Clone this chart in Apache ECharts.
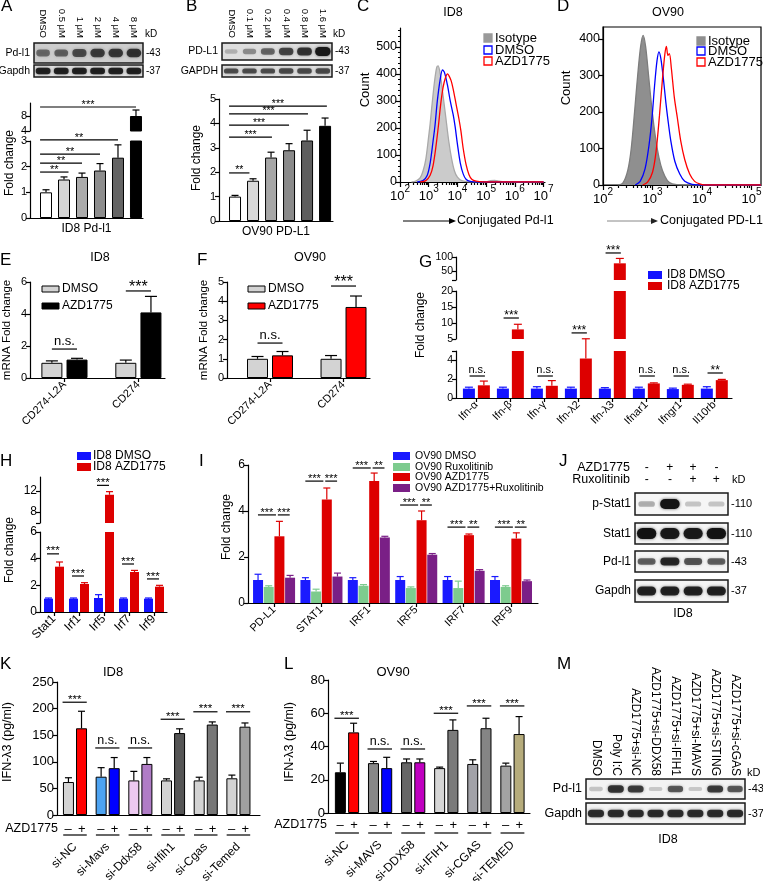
<!DOCTYPE html>
<html><head><meta charset="utf-8"><title>Figure</title>
<script src="https://cdn.jsdelivr.net/npm/echarts@6.0.0/dist/echarts.min.js"></script>
<style>html,body{margin:0;padding:0;background:#fff;}#chart{width:763px;height:881px;}</style>
</head><body><div id="chart"></div>
<script>
// ================= DATA =================
// A
const A_lanes = ['DMSO','0.5 μM','1 μM','2 μM','4 μM','8 μM'];
const A_pdl1Band = [0.45,0.5,0.62,0.72,0.75,0.78];
const A_gapdhBand = [0.85,0.85,0.85,0.85,0.85,0.85];
const A_fold = [1.0,1.5,1.6,1.85,2.35,8.0];
const A_err = [0.1,0.1,0.15,0.27,0.5,1.6];
const A_sigTo = [1.25,2,3,4,5];
const A_sigY = [1.79,2.14,2.49,3.04,10.4];
const A_sigLab = ['**','**','**','**','***'];
const A_sigSeg = [0,0,0,0,1];
// B
const B_lanes = ['DMSO','0.1 μM','0.2 μM','0.4 μM','0.8 μM','1.6 μM'];
const B_pdl1Band = [0.12,0.3,0.5,0.68,0.78,1.0];
const B_gapdhBand = [0.7,0.7,0.7,0.72,0.72,0.72];
const B_fold = [1.0,1.65,2.6,2.9,3.3,3.9];
const B_err = [0.05,0.08,0.22,0.27,0.42,0.32];
const B_sigTo = [0.8,2.05,3,4.05,5.1];
const B_sigY = [1.97,3.44,3.93,4.39,4.71];
const B_sigLab = ['**','***','***','***','***'];
// C (x = log10 fluorescence, y = count)
const C_iso = [[2.4,0],[2.55,3],[2.7,15],[2.8,40],[2.9,85],[3.0,170],[3.05,215],[3.1,270],[3.2,370],[3.28,425],[3.33,430],[3.4,400],[3.5,320],[3.6,235],[3.7,150],[3.8,85],[3.9,40],[4.0,18],[4.15,5],[4.4,1],[5.0,1],[5.15,5],[5.3,6],[5.45,3],[5.6,0],[7.0,0]];
const C_dmso = [[2.6,0],[2.8,5],[2.95,25],[3.05,70],[3.15,150],[3.22,210],[3.3,300],[3.4,380],[3.48,415],[3.55,405],[3.65,360],[3.75,300],[3.85,250],[3.92,205],[4.0,140],[4.1,70],[4.2,30],[4.3,10],[4.45,2],[4.7,0],[7.0,0]];
const C_azd = [[2.7,0],[2.9,5],[3.05,25],[3.15,60],[3.25,130],[3.34,210],[3.42,290],[3.5,350],[3.58,385],[3.66,400],[3.72,390],[3.78,375],[3.85,345],[3.95,290],[4.05,235],[4.12,190],[4.2,125],[4.3,65],[4.4,28],[4.5,10],[4.65,3],[4.9,0],[7.0,0]];
// D
const D_iso = [[2.3,0],[2.4,5],[2.5,40],[2.57,100],[2.64,205],[2.7,300],[2.76,380],[2.81,410],[2.86,380],[2.92,300],[2.99,205],[3.06,130],[3.13,75],[3.2,40],[3.3,12],[3.4,3],[3.6,0],[5.19,0]];
const D_dmso = [[2.65,0],[2.75,10],[2.85,45],[2.93,110],[2.99,185],[3.04,270],[3.09,340],[3.13,365],[3.17,345],[3.22,290],[3.27,225],[3.31,180],[3.37,120],[3.45,65],[3.55,30],[3.65,10],[3.8,2],[4.0,0],[5.19,0]];
const D_azd = [[2.8,0],[2.9,8],[3.0,35],[3.07,90],[3.14,190],[3.2,290],[3.25,360],[3.28,380],[3.31,355],[3.34,360],[3.38,320],[3.44,240],[3.5,185],[3.57,120],[3.65,70],[3.75,30],[3.85,10],[3.95,3],[4.05,0],[5.19,0]];
const FLOW_legend = ['Isotype','DMSO','AZD1775'];
// E / F
const EF_cats = ['CD274-L2A','CD274'];
const E_dmso = [0.95,0.95], E_dmsoErr = [0.12,0.17];
const E_azd = [1.15,4.1], E_azdErr = [0.08,1.0];
const E_sigY = [1.81,5.44], E_sigLab = ['n.s.','***'];
const F_dmso = [1.0,1.0], F_dmsoErr = [0.12,0.17];
const F_azd = [1.18,3.7], F_azdErr = [0.2,0.57];
const F_sigY = [1.82,4.79], F_sigLab = ['n.s.','***'];
// G
const G_cats = ['Ifn-α','Ifn-β','Ifn-γ','Ifn-λ2','Ifn-λ3','Ifnar1','Ifngr1','Il10rb'];
const G_dmso = [1.0,1.0,1.0,1.0,1.0,1.0,0.95,1.0];
const G_dmsoErr = [0.15,0.15,0.2,0.15,0.1,0.15,0.1,0.2];
const G_azd = [1.35,8.0,1.3,4.2,78,1.55,1.4,1.9];
const G_azdErr = [0.45,1.6,0.55,2.1,17,0.06,0.07,0.08];
const G_sigLab = ['n.s.','***','n.s.','***','***','n.s.','n.s.','**'];
const G_sigY = [2.34,11.56,2.34,6.9,114,2.34,2.34,2.66];
const G_sigSeg = [0,1,0,1,2,0,0,0];
// H
const H_cats = ['Stat1','Irf1','Irf5','Irf7','Irf9'];
const H_dmso = [1.0,1.0,1.05,1.0,1.0], H_dmsoErr = [0.05,0.05,0.25,0.05,0.05];
const H_azd = [3.4,2.1,11.3,3.0,1.9], H_azdErr = [0.35,0.1,0.6,0.12,0.1];
const H_sigY = [4.36,2.7,13.1,3.6,2.48], H_sigSeg = [0,0,1,0,0];
const H_sigLab = ['***','***','***','***','***'];
// I
const I_cats = ['PD-L1','STAT1','IRF1','IRF5','IRF7','IRF9'];
const I_names = ['OV90 DMSO','OV90 Ruxolitinib','OV90 AZD1775','OV90 AZD1775+Ruxolitinib'];
const I_dmso = [1.0,1.0,1.0,1.0,1.0,1.0], I_dmsoErr = [0.25,0.1,0.1,0.15,0.15,0.15];
const I_rux = [0.7,0.5,0.75,0.65,0.65,0.7], I_ruxErr = [0.05,0.1,0.05,0.05,0.3,0.05];
const I_azd = [2.9,4.5,5.3,3.6,2.95,2.8], I_azdErr = [0.65,0.5,0.35,0.4,0.05,0.25];
const I_combo = [1.1,1.15,2.85,2.1,1.4,0.95], I_comboErr = [0.1,0.15,0.05,0.05,0.05,0.05];
const I_sigY = [3.83,5.3,5.87,4.26,3.3,3.3];
const I_sigLab1 = ['***','***','***','***','***','***'];
const I_sigLab2 = ['***','***','**','**','**','**'];
// J
const J_azdSigns = ['-','+','+','-'];
const J_ruxSigns = ['-','-','+','+'];
const J_pStat1 = [0.2,1.0,0.1,0.1];
const J_stat1 = [0.95,0.9,0.9,0.95];
const J_pdl1 = [0.55,0.85,0.6,0.55];
const J_gapdh = [0.85,0.85,0.85,0.85];
// K
const K_cats = ['si-NC','si-Mavs','si-Ddx58','si-Ifih1','si-Cgas','si-Temed'];
const K_minus = [62,72,65,65,65,69], K_minusErr = [8,17,17,3,6,6];
const K_plus = [163,88,96,154,170,166], K_plusErr = [32,20,12,8,5,7];
const K_sigY = [212,126,126,180,194,194];
const K_sigLab = ['***','n.s.','n.s.','***','***','***'];
// L
const L_cats = ['si-NC','si-MAVS','si-DDX58','si-IFIH1','si-CGAS','si-TEMED'];
const L_minus = [24.5,30,30.5,27,29.5,28.5], L_minusErr = [5.5,1,2,0.6,2.5,1.5];
const L_plus = [48.5,27,30.5,50,51,47.5], L_plusErr = [5.5,6.5,2,6,6,10.5];
const L_sigY = [57,38.5,38.5,60,64.4,64.4];
const L_sigLab = ['***','n.s.','n.s.','***','***','***'];
const AZD_signs = ['–','+'];
// M
const M_lanes = ['DMSO','Poly I:C','AZD1775+si-NC','AZD1775+si-DDX58','AZD1775+si-IFIH1','AZD1775+si-MAVS','AZD1775+si-STING','AZD1775+si-cGAS'];
const M_pdl1 = [0.1,0.8,0.75,0.08,0.6,0.08,0.75,0.6];
const M_gapdh = [0.85,0.85,0.85,0.85,0.85,0.85,0.85,0.85];

// ================= BUILDERS =================
const F = 'Liberation Sans, Arial, Helvetica, sans-serif';
const grids=[], xAxes=[], yAxes=[], series=[], graphic=[];
const LS = {color:'#000', width:1.2};
function addGrid(l,t,w,h,ex){grids.push(Object.assign({left:l,top:t,width:w,height:h,containLabel:false,outerBoundsMode:'none',show:false},ex||{}));return grids.length-1;}
function addX(o){xAxes.push(o);return xAxes.length-1;}
function addY(o){yAxes.push(o);return yAxes.length-1;}
function T(x,y,text,fs,o){o=o||{};graphic.push({type:'text',x:x,y:y,rotation:o.rot||0,silent:true,z:10,style:{text:text,fontSize:fs,fontFamily:F,fill:o.color||'#000',align:o.align||'left',textAlign:o.align||'left',verticalAlign:o.va||'middle',textVerticalAlign:o.va||'middle'}});}
function VT(x,y,text,fs){T(x,y,text,fs,{rot:Math.PI/2,align:'center'});}
function R(x,y,w,h,fill,stroke,lw){graphic.push({type:'rect',silent:true,z:10,shape:{x:x,y:y,width:w,height:h},style:{fill:fill||'none',stroke:stroke||null,lineWidth:lw||0}});}
function xVal(gi,min,max,o){o=o||{};const cats=o.cats;
  return addX({gridIndex:gi,type:'value',min:min,max:max,position:'bottom',splitLine:{show:false},
    axisLine:{show:o.line!==false,onZero:false,lineStyle:LS},
    axisTick:(cats&&o.ticks)?{show:true,customValues:cats.map((_,i)=>i),length:4,lineStyle:LS}:{show:false},
    axisLabel:cats?{show:true,customValues:cats.map((_,i)=>i),formatter:(v)=>cats[Math.round(v)],rotate:o.rot||0,fontSize:o.fs||11,fontFamily:F,color:'#000',margin:(o.m==null?5:o.m)}:{show:false},
    name:o.name||'',nameLocation:'middle',nameGap:o.ng||5,nameTextStyle:{fontSize:12,fontFamily:F,color:'#000'}});}
function yVal(gi,min,max,labels,ticks,o){o=o||{};
  return addY({gridIndex:gi,type:'value',min:min,max:max,position:'left',splitLine:{show:false},
    axisLine:{show:true,onZero:false,lineStyle:LS},
    axisTick:{show:true,customValues:ticks,length:o.tl||4,lineStyle:LS},
    axisLabel:{show:true,customValues:labels,fontSize:o.fs||11,fontFamily:F,color:'#000',margin:o.m||3}});}
function bars(xi,yi,xs,vals,colors,w,border){
  series.push({type:'bar',xAxisIndex:xi,yAxisIndex:yi,barWidth:w,barGap:'-100%',clip:true,silent:true,z:2,
    data:vals.map((v,i)=>({value:[xs[i],v],itemStyle:{color:Array.isArray(colors)?colors[i]:colors}})),
    itemStyle:border?{borderColor:'#000',borderWidth:1}:{borderWidth:0}});}
function errs(xi,yi,xs,vals,es,colors,cap,mn,mx){
  series.push({type:'custom',xAxisIndex:xi,yAxisIndex:yi,silent:true,clip:false,z:3,
    data:vals.map((v,i)=>[xs[i],v,es[i]]),encode:{x:0,y:1},
    renderItem:function(p,api){const x=api.value(0),y=api.value(1),e=api.value(2);if(y<mn||y>mx)return null;
      const a=api.coord([x,y]),b=api.coord([x,y+e]);const c=Array.isArray(colors)?colors[p.dataIndex]:colors;
      return {type:'group',children:[
        {type:'line',shape:{x1:a[0],y1:a[1],x2:a[0],y2:b[1]},style:{stroke:c,lineWidth:1.2}},
        {type:'line',shape:{x1:a[0]-cap/2,y1:b[1],x2:a[0]+cap/2,y2:b[1]},style:{stroke:c,lineWidth:1.2}}]};}});}
function sig(xi,yi,items,labels,sfs,nfs){
  series.push({type:'custom',xAxisIndex:xi,yAxisIndex:yi,silent:true,clip:false,z:4,data:items,encode:{x:0,y:2},
    renderItem:function(p,api){const a=api.coord([api.value(0),api.value(2)]),b=api.coord([api.value(1),api.value(2)]);
      const lab=labels[p.dataIndex];const star=lab.indexOf('*')>=0;
      return {type:'group',children:[
        {type:'line',shape:{x1:a[0],y1:a[1],x2:b[0],y2:b[1]},style:{stroke:'#000',lineWidth:1.2}},
        {type:'text',style:{text:lab,x:(a[0]+b[0])/2,y:a[1]+(star?sfs*0.3:-1),align:'center',textAlign:'center',verticalAlign:'bottom',textVerticalAlign:'bottom',fontSize:star?sfs:nfs,fontFamily:F,fill:'#000'}}]};}});}
function signRow(xi,yi,n,off,dy,ul,fs){
  series.push({type:'custom',xAxisIndex:xi,yAxisIndex:yi,silent:true,clip:false,z:4,data:Array.from({length:n},(_,g)=>[g,0]),encode:{x:0,y:1},
    renderItem:function(p,api){const g=api.value(0);const a=api.coord([g-off,0]),b=api.coord([g+off,0]),l=api.coord([g-0.36,0]),r=api.coord([g+0.36,0]);const y=a[1]+dy;
      const st={fontSize:fs,fontFamily:F,fill:'#000',align:'center',textAlign:'center',verticalAlign:'middle',textVerticalAlign:'middle'};
      return {type:'group',children:[
        {type:'text',style:Object.assign({text:AZD_signs[0],x:a[0],y:y},st)},
        {type:'text',style:Object.assign({text:AZD_signs[1],x:b[0],y:y},st)},
        {type:'line',shape:{x1:l[0],y1:y+ul,x2:r[0],y2:y+ul},style:{stroke:'#000',lineWidth:1.2}}]};}});}
function bandSeries(xi,yi,vals,o){
  series.push({type:'custom',xAxisIndex:xi,yAxisIndex:yi,silent:true,clip:true,z:3,data:vals.map((v,i)=>[i,0,v]),encode:{x:0,y:1},
    renderItem:function(p,api){const a=api.value(2);const c=api.coord([api.value(0),0]);const bw=api.size([1,0])[0];const hh=p.coordSys.height;
      const w=bw*(o.wf||0.8)*(0.85+0.2*a),h=Math.max(2,hh*(o.hf||0.32)*(0.6+0.7*a));const k=o.dark||20;
      return {type:'rect',shape:{x:c[0]-w/2,y:c[1]-h/2,width:w,height:h,r:h/2},style:{fill:'rgba('+k+','+k+','+k+','+Math.min(1,0.12+0.88*a)+')',shadowBlur:o.blur||3,shadowColor:'rgba('+k+','+k+','+k+','+(0.7*a)+')'}};}});}
function blotRow(l,t,w,h,vals,rowName,kd,o){o=o||{};
  const gi=addGrid(l,t,w,h,{show:true,borderColor:'#1a1a1a',borderWidth:1.5,backgroundColor:o.bg||'#eeeeee'});
  const lanes=o.lanes||vals.map((_,i)=>String(i));
  const xi=addX({gridIndex:gi,type:'category',data:lanes,position:'top',axisLine:{show:false},axisTick:{show:false},splitLine:{show:false},
    axisLabel:o.lanes?{show:true,rotate:90,interval:0,fontSize:o.laneFs||10,fontFamily:F,color:'#000',margin:o.laneM||4}:{show:false}});
  const yi=addY({gridIndex:gi,type:'category',data:[rowName],position:'left',axisLine:{show:false},axisTick:{show:false},splitLine:{show:false},
    axisLabel:{show:true,fontSize:o.fs||12,fontFamily:F,color:'#000',margin:o.m||4}});
  addY({gridIndex:gi,type:'category',data:[kd],position:'right',axisLine:{show:false},axisTick:{show:false},splitLine:{show:false},
    axisLabel:{show:true,fontSize:o.kfs||10,fontFamily:F,color:'#000',margin:3}});
  bandSeries(xi,yi,vals,o);
  return {gi:gi,xi:xi,yi:yi};}
function flow(l,t,w,h,xmax,ymax,yLab,yMinor,curves,box){
  const gi=addGrid(l,t,w,h,box?{show:true,borderColor:'#000',borderWidth:1.2,backgroundColor:'rgba(0,0,0,0)'}:{});
  const ints=[];for(let n=2;n<=Math.floor(xmax+1e-9);n++)ints.push(n);
  const minors=[];for(let n=2;n<xmax;n++)for(let k=2;k<=9;k++){const v=n+Math.log10(k);if(v<=xmax)minors.push(v);}
  const xi=addX({gridIndex:gi,type:'value',min:2,max:xmax,position:'bottom',splitLine:{show:false},axisLine:{show:true,onZero:false,lineStyle:LS},
    axisTick:{show:true,customValues:ints,length:5,lineStyle:LS},
    axisLabel:{show:true,customValues:ints,formatter:(v)=>'{a|10}{b|'+Math.round(v)+'}',margin:2,
      rich:{a:{fontSize:13,fontFamily:F,color:'#000',verticalAlign:'bottom'},b:{fontSize:10,fontFamily:F,color:'#000',verticalAlign:'bottom',padding:[0,0,9,0]}}}});
  addX({gridIndex:gi,type:'value',min:2,max:xmax,position:'bottom',splitLine:{show:false},axisLine:{show:false,onZero:false},
    axisTick:{show:true,customValues:minors,length:3,lineStyle:LS},axisLabel:{show:false}});
  const yi=yVal(gi,0,ymax,yLab,yLab,{fs:12.5,tl:4});
  if(yMinor)addY({gridIndex:gi,type:'value',min:0,max:ymax,position:'left',splitLine:{show:false},axisLine:{show:false,onZero:false},
    axisTick:{show:true,customValues:yMinor,length:2,lineStyle:LS},axisLabel:{show:false}});
  curves.forEach(c=>series.push({type:'line',xAxisIndex:xi,yAxisIndex:yi,data:c.data,smooth:0.3,symbol:'none',silent:true,z:c.z||2,
    lineStyle:{color:c.color,width:1.3},areaStyle:c.fill?{color:c.fill,opacity:1}:null}));}
const idx=(n)=>Array.from({length:n},(_,i)=>i);
const shift=(n,d)=>Array.from({length:n},(_,i)=>i+d);

// ================= PANEL A =================
(function(){
  blotRow(34,43,109,20,A_pdl1Band,'Pd-l1','-43',{lanes:A_lanes,laneFs:9.5,laneM:5,fs:10.5,kfs:10,bg:'#cdcdcd',dark:25,hf:0.38});
  blotRow(34,65,109,12,A_gapdhBand,'Gapdh','-37',{fs:10.5,kfs:10,bg:'#e2e2e2',dark:15,hf:0.45});
  T(145,34,'kD',10);
  const cols=['#ffffff','#d5d5d5','#ababab','#8d8d8d','#646464','#000000'];
  const gLo=addGrid(30,141,113,77), gUp=addGrid(30,103,113,28);
  const xLo=xVal(gLo,-0.89,5.39,{name:'ID8 Pd-l1',ng:5}), xUp=xVal(gUp,-0.89,5.39,{line:false});
  const yLo=yVal(gLo,0,3,[0,1,2,3],[0,1,2,3]), yUp=yVal(gUp,4,11.47,[4,8],[4,8]);
  const xs=idx(6);
  [[xLo,yLo,0,3],[xUp,yUp,4,11.47]].forEach(s=>{bars(s[0],s[1],xs,A_fold,cols,12,true);errs(s[0],s[1],xs,A_fold,A_err,'#000',7,s[2],s[3]);});
  [0,1].forEach(seg=>{const it=[],lb=[];A_sigTo.forEach((t,i)=>{if(A_sigSeg[i]===seg){it.push([-0.33,t,A_sigY[i]]);lb.push(A_sigLab[i]);}});
    sig(seg?xUp:xLo,seg?yUp:yLo,it,lb,11,11);});
  VT(10,163,'Fold change',12);
})();
// ================= PANEL B =================
(function(){
  blotRow(222,43,110,17,B_pdl1Band,'PD-L1','-43',{lanes:B_lanes,laneFs:9.5,laneM:5,fs:10.5,kfs:10,bg:'#dedede',dark:25,hf:0.4});
  blotRow(222,65,110,12,B_gapdhBand,'GAPDH','-37',{fs:10.5,kfs:10,bg:'#e0e0e0',dark:40,hf:0.4});
  T(333,34,'kD',10);
  const cols=['#ffffff','#d8d8d8','#a6a6a6','#8a8a8a','#5e5e5e','#000000'];
  const g=addGrid(219,99,114,122);
  const xi=xVal(g,-0.89,5.44,{name:'OV90 PD-L1',ng:5}), yi=yVal(g,0,5,[0,1,2,3,4,5],[0,1,2,3,4,5]);
  const xs=idx(6);
  bars(xi,yi,xs,B_fold,cols,12,true); errs(xi,yi,xs,B_fold,B_err,'#000',7,0,5);
  sig(xi,yi,B_sigTo.map((t,i)=>[-0.33,t,B_sigY[i]]),B_sigLab,10.5,11);
  VT(197,158,'Fold change',12);
})();
// ================= PANEL C / D =================
(function(){
  const cMinor=[];for(let v=20;v<570;v+=20){if(v%100!==0)cMinor.push(v);}
  flow(400,28,145,154,7.05,570,[0,100,200,300,400,500],cMinor,[
    {data:C_iso,color:'#a9a9a9',fill:'#cbcbcb',z:2},{data:C_dmso,color:'#0000ff',z:3},{data:C_azd,color:'#ff0000',z:4}],false);
  flow(603,27,158,158,5.19,433,[0,100,200,300,400],null,[
    {data:D_iso,color:'#7d7d7d',fill:'#8f8f8f',z:2},{data:D_dmso,color:'#0000ff',z:3},{data:D_azd,color:'#ff0000',z:4}],true);
  T(453,13,'ID8',12.5,{align:'center'}); T(668,13,'OV90',12.5,{align:'center'});
  VT(365,90,'Count',13); VT(566,88,'Count',13);
  // legends
  [[484,38],[484,50],[484,61]].forEach((p,i)=>{const s=[['#9a9a9a','#9a9a9a'],['#fff','#0000ff'],['#fff','#ff0000']][i];R(p[0],p[1]-4,8,8,s[0],s[1],1.3);T(p[0]+11,p[1],FLOW_legend[i],13);});
  [[697,41],[697,51],[697,62]].forEach((p,i)=>{const s=[['#8f8f8f','#8f8f8f'],['#fff','#0000ff'],['#fff','#ff0000']][i];R(p[0],p[1]-4,8,8,s[0],s[1],1.3);T(p[0]+11,p[1],FLOW_legend[i],13);});
  // arrows + x names
  graphic.push({type:'line',silent:true,shape:{x1:403,y1:221,x2:450,y2:221},style:{stroke:'#000',lineWidth:1}});
  graphic.push({type:'polygon',silent:true,shape:{points:[[456,221],[449,218],[449,224]]},style:{fill:'#000'}});
  T(457,221,'Conjugated Pd-l1',12.5);
  graphic.push({type:'line',silent:true,shape:{x1:607,y1:221,x2:652,y2:221},style:{stroke:'#888',lineWidth:1}});
  graphic.push({type:'polygon',silent:true,shape:{points:[[658,221],[651,218],[651,224]]},style:{fill:'#222'}});
  T(660,221,'Conjugated PD-L1',12.5);
})();
// ================= PANEL E / F =================
(function(){
  const mk=function(l,w,xmin,xmax,ymax,yl,dm,dmE,az,azE,azCol,sY,sL,lgx){
    const g=addGrid(l,282,w,96);
    const xi=xVal(g,xmin,xmax,{cats:EF_cats,ticks:true,rot:45,fs:11,m:5}), yi=yVal(g,0,ymax,yl,yl,{fs:11});
    const d=0.17; const xd=shift(2,-d), xa=shift(2,d);
    bars(xi,yi,xd,dm,'#d3d3d3',21,true); bars(xi,yi,xa,az,azCol,21,true);
    errs(xi,yi,xd,dm,dmE,'#000',12,0,ymax); errs(xi,yi,xa,az,azE,'#000',12,0,ymax);
    sig(xi,yi,sY.map((y,i)=>[i-0.17,i+0.17,y]),sL,16,13);
    R(lgx,286,17,6,'#d3d3d3','#000',1); T(lgx+20,289,'DMSO',12);
    R(lgx,303,17,6,azCol,'#000',1); T(lgx+20,306,'AZD1775',12);
  };
  mk(30,135,-0.466,1.36,6,[0,2,4,6],E_dmso,E_dmsoErr,E_azd,E_azdErr,'#000000',E_sigY,E_sigLab,42);
  mk(227,143,-0.585,1.36,5,[0,1,2,3,4,5],F_dmso,F_dmsoErr,F_azd,F_azdErr,'#ff0000',F_sigY,F_sigLab,248);
  T(100,258,'ID8',12.5,{align:'center'}); T(310,258,'OV90',12.5,{align:'center'});
  VT(7,330,'mRNA Fold change',11.5); VT(204,330,'mRNA Fold change',11.5);
})();
// ================= PANEL G =================
(function(){
  const blue='#1212ff', red='#dd0000';
  const segs=[{t:351,h:47,mn:0,mx:5,lab:[0,2,4],tk:[0,2,4,5]},{t:291,h:48,mn:5,mx:20,lab:[5,10,15,20],tk:[5,10,15,20]},{t:257,h:23,mn:20,mx:100,lab:[50,100],tk:[20,50,100]}];
  const ax=segs.map((s,k)=>{const g=addGrid(456,s.t,276,s.h);
    const xi=k===0?xVal(g,-0.6,7.52,{cats:G_cats,ticks:true,rot:45,fs:11,m:5}):xVal(g,-0.6,7.52,{line:false});
    const yi=yVal(g,s.mn,s.mx,s.lab,s.tk,{fs:10.5});
    const xb=shift(8,-0.22), xr=shift(8,0.22);
    bars(xi,yi,xb,G_dmso,blue,12,false); bars(xi,yi,xr,G_azd,red,12,false);
    errs(xi,yi,xb,G_dmso,G_dmsoErr,blue,8,s.mn,s.mx); errs(xi,yi,xr,G_azd,G_azdErr,red,8,s.mn,s.mx);
    return [xi,yi];});
  [0,1,2].forEach(seg=>{const it=[],lb=[];G_sigY.forEach((y,i)=>{if(G_sigSeg[i]===seg){it.push([i-0.2,i+0.25,y]);lb.push(G_sigLab[i]);}});
    if(it.length)sig(ax[seg][0],ax[seg][1],it,lb,12,11);});
  R(648,271,14,8,blue); T(667,275,'ID8 DMSO',12);
  R(648,282,14,8,red); T(667,286,'ID8 AZD1775',12);
  VT(421,325,'Fold change',12);
})();
// ================= PANEL H =================
(function(){
  const blue='#1212ff', red='#dd0000';
  const segs=[{t:532,h:80,mn:0,mx:6,lab:[0,2,4,6],tk:[0,2,4,6]},{t:477,h:46,mn:5.9,mx:14.7,lab:[8,12],tk:[5.9,8,12]}];
  const ax=segs.map((s,k)=>{const g=addGrid(40,s.t,127,s.h);
    const xi=k===0?xVal(g,-0.56,4.52,{cats:H_cats,ticks:true,rot:45,fs:12,m:5}):xVal(g,-0.56,4.52,{line:false});
    const yi=yVal(g,s.mn,s.mx,s.lab,s.tk,{fs:12});
    const xb=shift(5,-0.22), xr=shift(5,0.22);
    bars(xi,yi,xb,H_dmso,blue,9,false); bars(xi,yi,xr,H_azd,red,9,false);
    errs(xi,yi,xb,H_dmso,H_dmsoErr,blue,7,s.mn,s.mx); errs(xi,yi,xr,H_azd,H_azdErr,red,7,s.mn,s.mx);
    return [xi,yi];});
  [0,1].forEach(seg=>{const it=[],lb=[];H_sigY.forEach((y,i)=>{if(H_sigSeg[i]===seg){it.push([i-0.28,i+0.2,y]);lb.push(H_sigLab[i]);}});
    sig(ax[seg][0],ax[seg][1],it,lb,11.5,11);});
  R(77,452,14,8,blue); T(93,456,'ID8 DMSO',12);
  R(77,463,14,8,red); T(93,467,'ID8 AZD1775',12);
  VT(10,550,'Fold change',12);
})();
// ================= PANEL I =================
(function(){
  const cols=['#1a1aff','#7dcb8e','#dd0000','#7a1f86'];
  const g=addGrid(248,465,290,138);
  const xi=xVal(g,-0.55,5.57,{cats:I_cats,ticks:true,rot:45,fs:11,m:5}), yi=yVal(g,0,6,[0,2,4,6],[0,2,4,6],{fs:12});
  const offs=[-0.338,-0.113,0.113,0.338];
  [[I_dmso,I_dmsoErr],[I_rux,I_ruxErr],[I_azd,I_azdErr],[I_combo,I_comboErr]].forEach((s,k)=>{const xs=shift(6,offs[k]);
    bars(xi,yi,xs,s[0],cols[k],10,false); errs(xi,yi,xs,s[0],s[1],cols[k],7,0,6);});
  sig(xi,yi,I_sigY.map((y,i)=>[i-0.34,i+0.04,y]),I_sigLab1,11,11);
  sig(xi,yi,I_sigY.map((y,i)=>[i+0.08,i+0.33,y]),I_sigLab2,11,11);
  [456,467,477,488].forEach((y,k)=>{R(393,y-4,17,8,cols[k]);T(415,y,I_names[k],10.5);});
  VT(227,527,'Fold change',12);
})();
// ================= PANEL J =================
(function(){
  const r1=blotRow(635,493,93,22,J_pStat1,'p-Stat1','-110',{fs:12,kfs:11,bg:'#f6f6f6',dark:20,hf:0.35});
  blotRow(635,523,93,21,J_stat1,'Stat1','-110',{fs:12,kfs:11,bg:'#f4f4f4',dark:15,hf:0.42});
  blotRow(635,551,93,21,J_pdl1,'Pd-l1','-43',{fs:12,kfs:11,bg:'#f4f4f4',dark:20,hf:0.32});
  blotRow(635,580,93,22,J_gapdh,'Gapdh','-37',{fs:12,kfs:11,bg:'#f4f4f4',dark:15,hf:0.35});
  [[J_azdSigns,'AZD1775',25],[J_ruxSigns,'Ruxolitinib',13]].forEach(s=>addX({gridIndex:r1.gi,type:'category',data:s[0],position:'top',offset:s[2],
    axisLine:{show:false},axisTick:{show:false},splitLine:{show:false},
    axisLabel:{show:true,interval:0,margin:0,verticalAlign:'middle',fontSize:12,fontFamily:F,color:'#000'},
    name:s[1],nameLocation:'start',nameGap:5,nameTextStyle:{fontSize:12.5,fontFamily:F,color:'#000',align:'right',verticalAlign:'middle'}}));
  T(732,480,'kD',11);
  T(683,614,'ID8',12.5,{align:'center'});
})();
// ================= PANEL K / L =================
(function(){
  const mk=function(l,t,w,h,xmin,xmax,ymax,yl,cats,mi,miE,pl,plE,cMi,cPl,sY,sL,dy,ul,nfs){
    const g=addGrid(l,t,w,h);
    const xi=xVal(g,xmin,xmax,{cats:cats,ticks:false,rot:45,fs:12,m:30}), yi=yVal(g,0,ymax,yl,yl,{fs:13,m:3});
    const xm=shift(6,-0.2), xp=shift(6,0.2);
    bars(xi,yi,xm,mi,cMi,11,true); bars(xi,yi,xp,pl,cPl,11,true);
    errs(xi,yi,xm,mi,miE,'#000',7,0,ymax); errs(xi,yi,xp,pl,plE,'#000',7,0,ymax);
    sig(xi,yi,sY.map((y,i)=>[i-0.38,i+0.36,y]),sL,11.5,nfs);
    signRow(xi,yi,6,0.21,dy,ul,13);
  };
  mk(57,682,203,133,-0.55,5.66,250,[0,50,100,150,200,250],K_cats,K_minus,K_minusErr,K_plus,K_plusErr,
     ['#d3d3d3','#4da3f2','#ecc9f0','#d3d3d3','#d3d3d3','#d3d3d3'],['#ff0000','#0000ff','#b07cc6','#555555','#777777','#a0a0a0'],K_sigY,K_sigLab,14,6,12.5);
  mk(328,680,202,133,-0.574,5.53,80,[0,20,40,60,80],L_cats,L_minus,L_minusErr,L_plus,L_plusErr,
     ['#000000','#888888','#666666','#d6d6d6','#a2a2a8','#a3a3a3'],['#ff0000','#0000ff','#c000c0','#7a7a7a','#858585','#b6ac7c'],L_sigY,L_sigLab,12,8,12.5);
  T(58,829,'AZD1775',12.5,{align:'right'}); T(327,825,'AZD1775',12.5,{align:'right'});
  T(113,672,'ID8',13,{align:'center'}); T(393,672,'OV90',13,{align:'center'});
  VT(8,742,'IFN-λ3 (pg/ml)',12.5); VT(290,742,'IFN-λ3 (pg/ml)',12.5);
})();
// ================= PANEL M =================
(function(){
  blotRow(586,779,159,20,M_pdl1,'Pd-l1','-43',{lanes:M_lanes,laneFs:12,laneM:3,fs:12.5,kfs:11,bg:'#f3f3f3',dark:25,hf:0.32});
  blotRow(586,803,159,21,M_gapdh,'Gapdh','-37',{fs:12.5,kfs:11,bg:'#f3f3f3',dark:25,hf:0.3});
  T(747,773,'kD',11);
  T(668,840,'ID8',12.5,{align:'center'});
})();
// ================= LETTERS =================
[['A',1,6],['B',186,6],['C',357,6],['D',557,6],['E',0,260],['F',197,260],['G',419,262],['H',0,461],['I',199,461],['J',559,461],['K',0,664],['L',284,664],['M',557,664]]
  .forEach(a=>T(a[1],a[2],a[0],17));

const chart = echarts.init(document.getElementById('chart'), null, {renderer:'canvas', width:763, height:881});
chart.setOption({animation:false, backgroundColor:'#ffffff', grid:grids, xAxis:xAxes, yAxis:yAxes, series:series, graphic:{elements:graphic}});
</script></body></html>
